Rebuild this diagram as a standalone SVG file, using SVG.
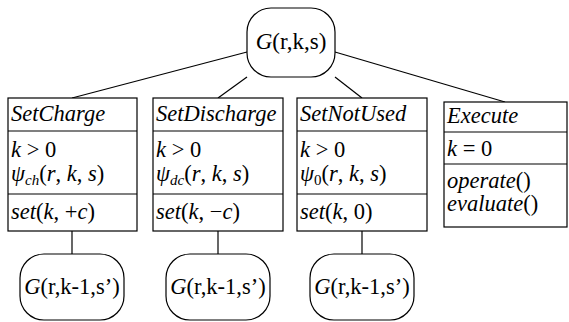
<svg xmlns="http://www.w3.org/2000/svg" width="569" height="322" viewBox="0 0 569 322" font-family="'Liberation Serif', 'DejaVu Serif', serif">
<style>
.b{fill:#fff;stroke:#000;stroke-width:1.2}
line{stroke:#000;stroke-width:1.2}
text{font-family:'Liberation Serif','DejaVu Serif',serif;font-size:22.5px;fill:#000}
.i{font-style:italic}
.sub{font-size:15px;font-style:italic}
.s0{font-size:15px}
</style>
<g id="connectors">
<line x1="247" y1="52" x2="72" y2="98"/>
<line x1="247" y1="77" x2="218" y2="98"/>
<line x1="335" y1="77" x2="362" y2="98"/>
<line x1="335" y1="52" x2="505" y2="102"/>
<line x1="72" y1="231" x2="72" y2="254"/>
<line x1="218" y1="231" x2="218" y2="254"/>
<line x1="362" y1="231" x2="362" y2="254"/>
</g>
<g id="root">
<rect class="b" x="247" y="8" width="88" height="69" rx="24"/>
<text x="291" y="49" text-anchor="middle" style="font-size:23px"><tspan class="i">G</tspan>(r,k,s)</text>
</g>
<g id="setcharge">
<rect class="b" x="8" y="98" width="129" height="133"/>
<line x1="8" y1="131" x2="137" y2="131"/>
<line x1="8" y1="194" x2="137" y2="194"/>
<text x="11" y="121" class="i">SetCharge</text>
<text x="11" y="157"><tspan class="i">k</tspan> &gt; 0</text>
<text x="11" y="181"><tspan class="i">ψ</tspan><tspan class="sub" dy="4">ch</tspan><tspan dy="-4">(</tspan><tspan class="i">r</tspan>, <tspan class="i">k</tspan>, <tspan class="i">s</tspan>)</text>
<text x="11" y="219"><tspan class="i">set</tspan>(<tspan class="i">k</tspan>, +<tspan class="i">c</tspan>)</text>
</g>
<g id="setdischarge">
<rect class="b" x="153" y="98" width="130" height="133"/>
<line x1="153" y1="131" x2="283" y2="131"/>
<line x1="153" y1="194" x2="283" y2="194"/>
<text x="156" y="121" class="i">SetDischarge</text>
<text x="156" y="157"><tspan class="i">k</tspan> &gt; 0</text>
<text x="156" y="181"><tspan class="i">ψ</tspan><tspan class="sub" dy="4">dc</tspan><tspan dy="-4">(</tspan><tspan class="i">r</tspan>, <tspan class="i">k</tspan>, <tspan class="i">s</tspan>)</text>
<text x="156" y="219"><tspan class="i">set</tspan>(<tspan class="i">k</tspan>, −<tspan class="i">c</tspan>)</text>
</g>
<g id="setnotused">
<rect class="b" x="297" y="98" width="130" height="133"/>
<line x1="297" y1="131" x2="427" y2="131"/>
<line x1="297" y1="194" x2="427" y2="194"/>
<text x="300" y="121" class="i">SetNotUsed</text>
<text x="300" y="157"><tspan class="i">k</tspan> &gt; 0</text>
<text x="300" y="181"><tspan class="i">ψ</tspan><tspan class="s0" dy="4">0</tspan><tspan dy="-4">(</tspan><tspan class="i">r</tspan>, <tspan class="i">k</tspan>, <tspan class="i">s</tspan>)</text>
<text x="300" y="219"><tspan class="i">set</tspan>(<tspan class="i">k</tspan>, 0)</text>
</g>
<g id="execute">
<rect class="b" x="444" y="102" width="123" height="125"/>
<line x1="444" y1="132" x2="567" y2="132"/>
<line x1="444" y1="164" x2="567" y2="164"/>
<text x="447" y="123" class="i">Execute</text>
<text x="447" y="156"><tspan class="i">k</tspan> = 0</text>
<text x="447" y="188"><tspan class="i">operate</tspan>()</text>
<text x="447" y="211"><tspan class="i">evaluate</tspan>()</text>
</g>
<g id="child1">
<rect class="b" x="20" y="254" width="104" height="66" rx="24"/>
<text x="72" y="294" text-anchor="middle"><tspan class="i">G</tspan>(r,k-1,s’)</text>
</g>
<g id="child2">
<rect class="b" x="166" y="254" width="104" height="66" rx="24"/>
<text x="218" y="294" text-anchor="middle"><tspan class="i">G</tspan>(r,k-1,s’)</text>
</g>
<g id="child3">
<rect class="b" x="310" y="254" width="104" height="66" rx="24"/>
<text x="362" y="294" text-anchor="middle"><tspan class="i">G</tspan>(r,k-1,s’)</text>
</g>
</svg>
